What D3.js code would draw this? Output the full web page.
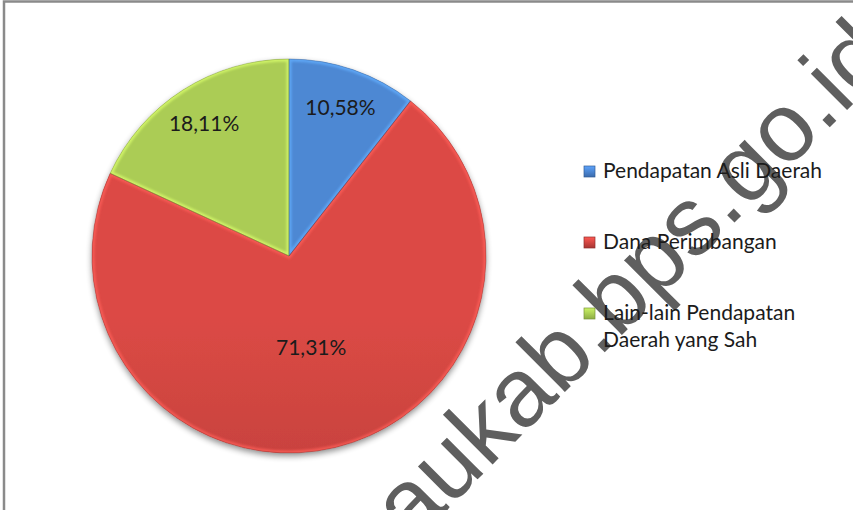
<!DOCTYPE html>
<meta charset="utf-8">
<style>
body { margin: 0; background: #fff; }
svg { display: block; }
.pct { font-family: Lato, "Open Sans", sans-serif; font-size: 21px; fill: #1b1b1b; text-anchor: middle; }
.legend text { font-family: Lato, "Open Sans", sans-serif; font-size: 21px; fill: #1b1b1b; }
.watermark { font-family: "Liberation Sans", Arial, sans-serif; font-size: 97px; fill: #5f5f5f; }
</style>
<body>
<script src="https://d3js.org/d3.v7.min.js"></script>
<script>

var categories = ["Pendapatan Asli Daerah", "Dana Perimbangan", "Lain-lain Pendapatan Daerah yang Sah"];
var legendLines = [["Pendapatan Asli Daerah"], ["Dana Perimbangan"], ["Lain-lain Pendapatan", "Daerah yang Sah"]];
var shares = [10.58, 71.31, 18.11];
var colorTop = ["#4e88d3", "#dc4a45", "#abcc55"];
var colorBottom = ["#3a6aab", "#a63532", "#8dac44"];
var watermarkText = "aukab.bps.go.id";

var width = 853,
    height = 510;

var cx = 289, cy = 256, radius = 197;
// label distance from centre, as a share of the radius (Excel moved the big one inwards)
var labelRadius = [0.8, 0.48, 0.8];

var idLocale = d3.formatLocale({decimal: ",", thousands: ".", grouping: [3], currency: ["Rp", ""]});
var fmt = idLocale.format(".2f");

var svg = d3.select("body").append("svg")
    .attr("width", width)
    .attr("height", height);

var defs = svg.append("defs");

// slice gradients, shared across the whole pie height
categories.forEach(function(c, i) {
  var g = defs.append("linearGradient")
      .attr("id", "grad" + i)
      .attr("gradientUnits", "userSpaceOnUse")
      .attr("x1", 0).attr("y1", cy - radius)
      .attr("x2", 0).attr("y2", cy + radius);
  g.append("stop").attr("offset", "0%").attr("stop-color", colorTop[i]);
  g.append("stop").attr("offset", "100%").attr("stop-color", colorBottom[i]);

  var lg = defs.append("linearGradient")
      .attr("id", "lgrad" + i)
      .attr("x1", 0).attr("y1", 0).attr("x2", 0).attr("y2", 1);
  lg.append("stop").attr("offset", "0%").attr("stop-color", d3.color(colorTop[i]).brighter(0.5));
  lg.append("stop").attr("offset", "100%").attr("stop-color", colorBottom[i]);
});

var shadow = defs.append("filter")
    .attr("id", "shadow")
    .attr("x", "-10%").attr("y", "-10%")
    .attr("width", "120%").attr("height", "125%");
shadow.append("feGaussianBlur").attr("in", "SourceAlpha").attr("stdDeviation", 3).attr("result", "b");
shadow.append("feOffset").attr("in", "b").attr("dy", 3).attr("result", "o");
shadow.append("feComponentTransfer").attr("in", "o").attr("result", "s")
  .append("feFuncA").attr("type", "linear").attr("slope", 0.45);
var merge = shadow.append("feMerge");
merge.append("feMergeNode").attr("in", "s");
merge.append("feMergeNode").attr("in", "SourceGraphic");

defs.append("filter").attr("id", "soft")
  .append("feGaussianBlur").attr("stdDeviation", 1.2);

// chart area frame (only top and left edges fall inside the picture)
svg.append("rect")
    .attr("x", 4).attr("y", 1.5)
    .attr("width", width + 20).attr("height", height + 20)
    .attr("fill", "none")
    .attr("stroke", "#8a8a8a")
    .attr("stroke-width", 2.5);

var pie = d3.pie().sort(null).value(d => d);
var arcs = pie(shares);

var arc = d3.arc().innerRadius(0).outerRadius(radius);

var pieG = svg.append("g")
    .attr("transform", `translate(${cx},${cy})`);

arcs.forEach(function(d, i) {
  defs.append("clipPath").attr("id", "clip" + i)
    .append("path").attr("d", arc(d));
});

// gradients are in page coordinates, so the slices sit in page space
var sliceG = svg.append("g").attr("filter", "url(#shadow)");
pieG.raise();

sliceG.selectAll("path.slice")
    .data(arcs)
  .enter()
    .append("path")
    .attr("class", "slice")
    .attr("d", arc)
    .attr("transform", `translate(${cx},${cy})`)
    .attr("fill", (d, i) => `url(#grad${i})`);

// bevel highlight along slice edges
pieG.selectAll("path.bevel")
    .data(arcs)
  .enter()
    .append("path")
    .attr("class", "bevel")
    .attr("d", arc)
    .attr("clip-path", (d, i) => `url(#clip${i})`)
    .attr("fill", "none")
    .attr("stroke", (d, i) => d3.color(colorTop[i]).brighter(0.7))
    .attr("stroke-opacity", 0.75)
    .attr("stroke-width", 5)
    .attr("filter", "url(#soft)");

// thin dark separators
pieG.selectAll("path.edge")
    .data(arcs)
  .enter()
    .append("path")
    .attr("class", "edge")
    .attr("d", arc)
    .attr("fill", "none")
    .attr("stroke", (d, i) => d3.color(colorBottom[i]).darker(0.6))
    .attr("stroke-opacity", 0.5)
    .attr("stroke-width", 0.8);

pieG.selectAll("text.pct")
    .data(arcs)
  .enter()
    .append("text")
    .attr("class", "pct")
    .attr("transform", function(d, i) {
      var r = radius * labelRadius[i];
      var c = d3.arc().innerRadius(r).outerRadius(r).centroid(d);
      return `translate(${c[0]},${c[1]})`;
    })
    .attr("dy", "0.36em")
    .text(d => fmt(d.data) + "%");

// watermark
svg.append("text")
    .attr("class", "watermark")
    .attr("transform", "translate(896,61) rotate(-45)")
    .attr("text-anchor", "end")
    .text(watermarkText);

// legend
var legendX = 584, legendY = 178, legendGap = 71, lineH = 27;

var legend = svg.append("g").attr("class", "legend");
var item = legend.selectAll("g")
    .data(legendLines)
  .enter()
    .append("g")
    .attr("transform", (d, i) => `translate(${legendX},${legendY + i * legendGap})`);

item.append("rect")
    .attr("x", 0).attr("y", -12)
    .attr("width", 11).attr("height", 11)
    .attr("fill", (d, i) => `url(#lgrad${i})`)
    .attr("stroke", (d, i) => d3.color(colorBottom[i]).darker(0.4))
    .attr("stroke-width", 0.7);

item.append("text")
    .selectAll("tspan")
    .data(d => d)
  .enter()
    .append("tspan")
    .attr("x", 19)
    .attr("y", (d, j) => j * lineH)
    .text(d => d);

</script>
